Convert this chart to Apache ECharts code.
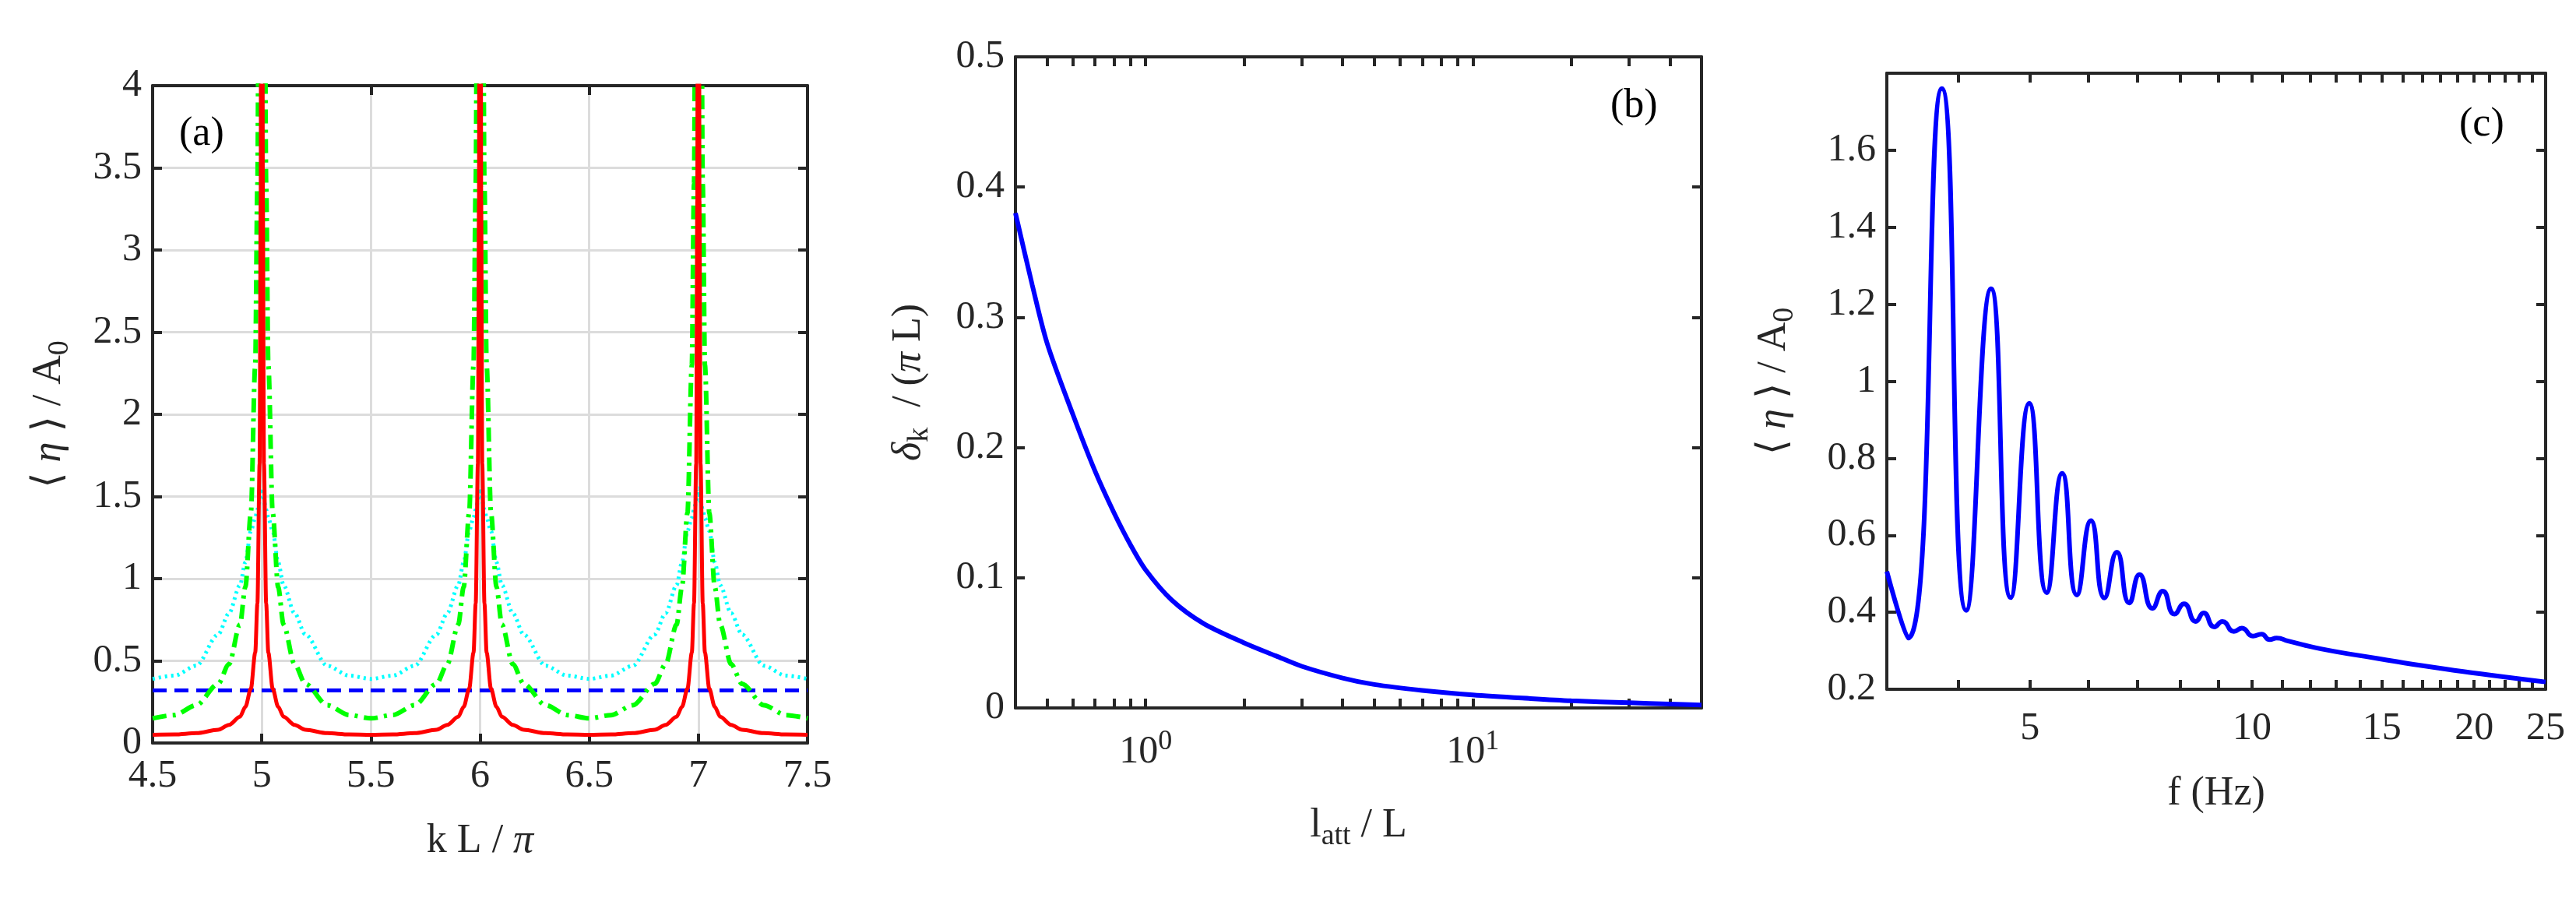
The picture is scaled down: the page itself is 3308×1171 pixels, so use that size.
<!DOCTYPE html>
<html>
<head>
<meta charset="utf-8">
<script src="https://cdn.jsdelivr.net/npm/echarts@6/dist/echarts.min.js"></script>
<style>
  html, body { margin: 0; padding: 0; background: #fff; }
  #main { width: 3308px; height: 1171px; }
</style>
</head>
<body>
<div id="main"></div>
<script>
// panel (a): values read at distance d from the nearest resonance (curves are symmetric)
var offsetsA = [0, 0.003, 0.005, 0.01, 0.02, 0.03, 0.05, 0.075, 0.1, 0.15, 0.2, 0.3, 0.4, 0.5];
var redA   = [30, 5, 3.3, 1.7, 0.85, 0.55, 0.33, 0.22, 0.16, 0.11, 0.08, 0.06, 0.052, 0.05];
var greenA = [15, 9, 8, 6, 3.4, 2.3, 1.4, 0.95, 0.72, 0.48, 0.36, 0.23, 0.17, 0.15];
var cyanA  = [1.55, 1.53, 1.51, 1.47, 1.42, 1.37, 1.29, 1.1, 0.96, 0.79, 0.66, 0.47, 0.41, 0.39];
var blueA  = 0.32;
var peaksA = [5, 6, 7];

// panel (b)
var lattB  = [0.4, 0.45, 0.5, 0.6, 0.7, 0.8, 0.9, 1, 1.2, 1.5, 2, 2.5, 3, 4, 5, 7, 10, 15, 20, 30, 40, 50];
var deltaB = [0.38, 0.325, 0.28, 0.225, 0.182, 0.15, 0.125, 0.106, 0.083, 0.065, 0.05, 0.04, 0.032, 0.023, 0.018, 0.0135, 0.01, 0.0072, 0.0055, 0.004, 0.003, 0.0022];

// panel (c)
var freqC = [3.2, 3.42, 3.8, 4.1, 4.43, 4.71, 4.99, 5.27, 5.53, 5.79, 6.05, 6.31, 6.56, 6.82, 7.04, 7.33, 7.57, 7.85, 8.09, 8.39, 8.6, 8.89, 9.12, 9.45, 9.69, 10.03, 10.3, 10.57, 10.8, 11.2, 12.4, 14.8, 17.6, 21, 25];
var etaC  = [0.506, 0.333, 1.76, 0.405, 1.24, 0.438, 0.943, 0.451, 0.761, 0.445, 0.638, 0.437, 0.556, 0.424, 0.498, 0.41, 0.455, 0.395, 0.422, 0.376, 0.398, 0.362, 0.376, 0.35, 0.359, 0.338, 0.343, 0.329, 0.333, 0.325, 0.305, 0.28, 0.257, 0.237, 0.219];

var ticksB = [0.4, 0.5, 0.6, 0.7, 0.8, 0.9, 1, 2, 3, 4, 5, 6, 7, 8, 9, 10, 20, 30, 40, 50];
var labelsB = [1, 10];
var ticksC = [4, 5, 6, 7, 8, 9, 10, 11, 12, 13, 14, 15, 16, 17, 18, 19, 20, 21, 22, 23, 24, 25];
var labelsC = [5, 10, 15, 20, 25];

var FONT = '"Liberation Serif", "DejaVu Serif", serif';
var DARK = '#262626';

function buildA(vals) {
  var pts = [];
  peaksA.forEach(function (n) {
    offsetsA.forEach(function (d, i) {
      if (n - d >= 4.5) pts.push([n - d, vals[i]]);
      if (d > 0 && n + d <= 7.5) pts.push([n + d, vals[i]]);
    });
  });
  pts.sort(function (a, b) { return a[0] - b[0]; });
  var out = [];
  pts.forEach(function (p) {
    if (!out.length || Math.abs(out[out.length - 1][0] - p[0]) > 1e-9) out.push(p);
  });
  return out;
}
function lg(v) { return Math.log10(v); }

var grids = [
  { left: 196, top: 110, width: 841, height: 844 },
  { left: 1304, top: 73, width: 881, height: 836 },
  { left: 2423, top: 94, width: 846, height: 791 }
];

var labelStyle = { fontFamily: FONT, fontSize: 50, color: DARK };
var nameStyle = { fontFamily: FONT, fontSize: 52, color: DARK,
  rich: {
    i: { fontFamily: FONT, fontStyle: 'italic', fontSize: 52, color: DARK },
    sub: { fontFamily: FONT, fontSize: 38, color: DARK, verticalAlign: 'bottom', padding: [28, 0, 0, 0] },
    b: { fontFamily: FONT, fontSize: 52, color: DARK }
  }
};

function frameAxis(type, grid, pos, extra) {
  var ax = {
    type: 'value', gridIndex: grid, position: pos,
    axisLine: { show: true, onZero: false, lineStyle: { color: DARK, width: 4 } },
    axisTick: { show: true, inside: true, length: 12, lineStyle: { color: DARK, width: 4 } },
    axisLabel: { show: false },
    splitLine: { show: false }
  };
  for (var k in extra) ax[k] = extra[k];
  return ax;
}

function logTicks(ticks, labels, fmt) {
  return {
    axisTick: { show: true, inside: true, length: 12, customValues: ticks.map(lg), lineStyle: { color: DARK, width: 4 } },
    axisLabel: { show: true, customValues: labels.map(lg), formatter: fmt, margin: 26,
      fontFamily: FONT, fontSize: 50, color: DARK,
      rich: { sup: { fontFamily: FONT, fontSize: 36, color: DARK, verticalAlign: 'top', padding: [0, 0, 26, 0] },
              b: { fontFamily: FONT, fontSize: 50, color: DARK } } }
  };
}

var xAxes = [
  frameAxis('value', 0, 'bottom', {
    min: 4.5, max: 7.5, interval: 0.5,
    axisLabel: Object.assign({ show: true, margin: 18 }, labelStyle),
    splitLine: { show: true, lineStyle: { color: '#dcdcdc', width: 3 } },
    name: 'k L / {i|π}', nameLocation: 'middle', nameGap: 100, nameTextStyle: nameStyle
  }),
  frameAxis('value', 0, 'top', { min: 4.5, max: 7.5, interval: 0.5 }),
  frameAxis('value', 1, 'bottom', Object.assign({
    min: lg(0.4), max: lg(50),
    name: 'l{sub|att} / L', nameLocation: 'middle', nameGap: 118, nameTextStyle: nameStyle
  }, logTicks(ticksB, labelsB, function (v) {
    return '{b|10}{sup|' + Math.round(v) + '}';
  }))),
  frameAxis('value', 1, 'top', Object.assign({ min: lg(0.4), max: lg(50) },
    logTicks(ticksB, [], null), { axisLabel: { show: false } })),
  frameAxis('value', 2, 'bottom', Object.assign({
    min: lg(3.2), max: lg(25),
    name: 'f (Hz)', nameLocation: 'middle', nameGap: 108, nameTextStyle: nameStyle
  }, logTicks(ticksC, labelsC, function (v) {
    return '{b|' + Math.round(Math.pow(10, v)) + '}';
  }))),
  frameAxis('value', 2, 'top', Object.assign({ min: lg(3.2), max: lg(25) },
    logTicks(ticksC, [], null), { axisLabel: { show: false } }))
];

var yAxes = [
  frameAxis('value', 0, 'left', {
    min: 0, max: 4, interval: 0.5,
    axisLabel: Object.assign({ show: true, margin: 14 }, labelStyle),
    splitLine: { show: true, lineStyle: { color: '#dcdcdc', width: 3 } },
    name: '⟨ {i|η} ⟩ / A{sub|0}', nameLocation: 'middle', nameGap: 100, nameRotate: 90, nameTextStyle: nameStyle
  }),
  frameAxis('value', 0, 'right', { min: 0, max: 4, interval: 0.5 }),
  frameAxis('value', 1, 'left', {
    min: 0, max: 0.5, interval: 0.1,
    axisLabel: Object.assign({ show: true, margin: 14 }, labelStyle),
    name: '{i|δ}{sub|k}  / ({i|π} L)', nameLocation: 'middle', nameGap: 104, nameRotate: 90, nameTextStyle: nameStyle
  }),
  frameAxis('value', 1, 'right', { min: 0, max: 0.5, interval: 0.1 }),
  frameAxis('value', 2, 'left', {
    min: 0.2, max: 1.8, interval: 0.2,
    axisLabel: Object.assign({ show: true, margin: 14, showMaxLabel: false }, labelStyle),
    name: '⟨ {i|η} ⟩ / A{sub|0}', nameLocation: 'middle', nameGap: 112, nameRotate: 90, nameTextStyle: nameStyle
  }),
  frameAxis('value', 2, 'right', { min: 0.2, max: 1.8, interval: 0.2 })
];

function line(xi, yi, data, color, width, type, smooth, mono) {
  var s = {
    type: 'line', xAxisIndex: xi, yAxisIndex: yi, data: data, showSymbol: false, symbol: 'none',
    smooth: smooth || false, clip: true, animation: false,
    lineStyle: { color: color, width: width, type: type || 'solid' }
  };
  if (mono) s.smoothMonotone = 'x';
  return s;
}

var option = {
  animation: false,
  backgroundColor: '#fff',
  grid: grids,
  xAxis: xAxes,
  yAxis: yAxes,
  series: [
    line(0, 0, buildA(cyanA), '#00ffff', 5, [3, 5], 0.3, true),
    line(0, 0, [[4.5, blueA], [7.5, blueA]], '#0000ff', 5, [18, 10]),
    line(0, 0, buildA(greenA), '#00ff00', 6, [18, 8, 4, 8], 0.3, true),
    line(0, 0, buildA(redA), '#ff0000', 5, 'solid', 0.3, true),
    line(2, 2, lattB.map(function (v, i) { return [lg(v), deltaB[i]]; }), '#0000ff', 6, 'solid', 0.3),
    line(4, 4, freqC.map(function (v, i) { return [lg(v), etaC[i]]; }), '#0000ff', 6, 'solid', 0.55)
  ],
  graphic: [
    { type: 'text', left: 230, top: 146, style: { text: '(a)', font: '52px "Liberation Serif"', fill: '#000' } },
    { type: 'text', left: 2068, top: 110, style: { text: '(b)', font: '52px "Liberation Serif"', fill: '#000' } },
    { type: 'text', left: 3158, top: 134, style: { text: '(c)', font: '52px "Liberation Serif"', fill: '#000' } }
  ]
};

var chart = echarts.init(document.getElementById('main'));
chart.setOption(option);
</script>
</body>
</html>
